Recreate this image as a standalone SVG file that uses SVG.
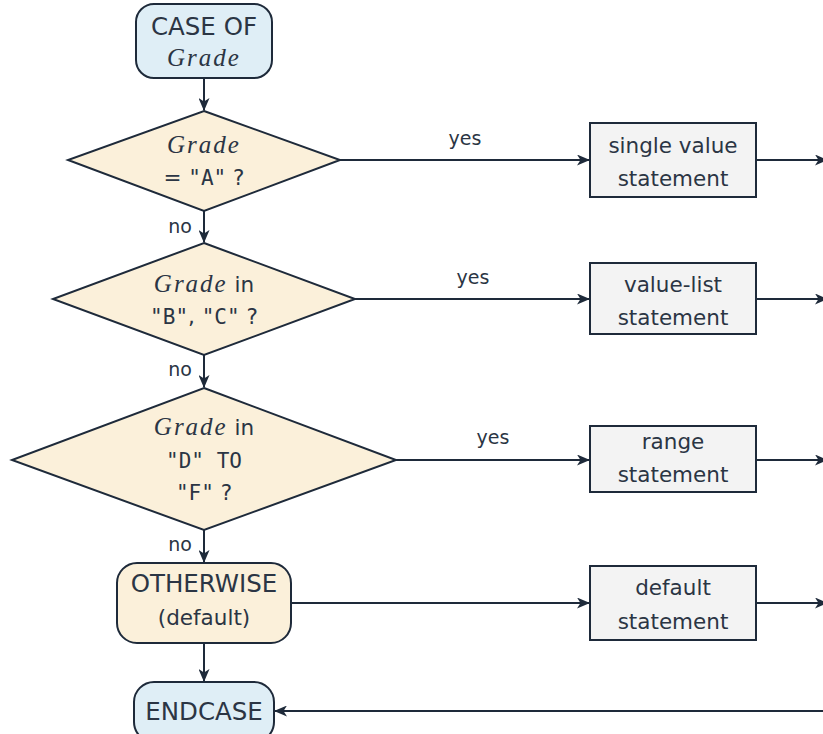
<svg xmlns="http://www.w3.org/2000/svg" width="823" height="734" viewBox="0 0 823 734">
<defs>
<marker id="ah" viewBox="0 0 13 11" refX="12" refY="5.5" markerWidth="13" markerHeight="11" markerUnits="userSpaceOnUse" orient="auto">
<path d="M0,0 L13,5.5 L0,11 L3.5,5.5 Z" fill="#1e2a3a"/>
</marker>
<style>
.s{stroke:#1e2a3a;stroke-width:2;}
.blue{fill:#dfeef6;}
.beige{fill:#fbf0da;}
.gray{fill:#f3f3f3;}
.t{font-family:"DejaVu Sans","Open Sans",sans-serif;font-size:21.5px;fill:#2b3544;text-anchor:middle;}
.cap{font-size:24.5px;}
.lbl{font-family:"DejaVu Sans","Open Sans",sans-serif;font-size:19px;fill:#2b3544;text-anchor:middle;}
.m{font-family:"Liberation Serif","DejaVu Serif",serif;font-style:italic;font-size:25px;letter-spacing:2px;}
.tt{font-family:"DejaVu Sans Mono","Liberation Mono",monospace;font-size:21px;}
.c{fill:none;stroke:#1e2a3a;stroke-width:2;marker-end:url(#ah);}
</style>
</defs>
<g id="connectors">
<path class="c" d="M204,78 L204,110"/>
<path class="c" d="M204,211 L204,242"/>
<path class="c" d="M204,355 L204,387"/>
<path class="c" d="M204,530 L204,562"/>
<path class="c" d="M204,643 L204,681"/>
<path class="c" d="M340,160 L589,160"/>
<path class="c" d="M355,299 L589,299"/>
<path class="c" d="M396,460 L589,460"/>
<path class="c" d="M291,603 L589,603"/>
<path class="c" d="M757,160 L827,160"/>
<path class="c" d="M757,299 L827,299"/>
<path class="c" d="M757,460 L827,460"/>
<path class="c" d="M757,603 L827,603"/>
<path class="c" d="M830,711 L275,711"/>
<text class="lbl" x="465" y="145">yes</text>
<text class="lbl" x="473" y="284">yes</text>
<text class="lbl" x="493" y="444">yes</text>
<text class="lbl" x="180" y="233">no</text>
<text class="lbl" x="180" y="376">no</text>
<text class="lbl" x="180" y="551">no</text>
</g>
<g id="case">
<rect class="s blue" x="136" y="4" width="136" height="74" rx="18"/>
<text class="t cap" x="204" y="35">CASE OF</text>
<text class="t m" x="204" y="66">Grade</text>
</g>
<g id="d1">
<polygon class="s beige" points="204,111 340,160 204,211 68,160"/>
<text class="t m" x="204" y="153">Grade</text>
<text class="t" x="204" y="185">= <tspan class="tt">"A"</tspan> ?</text>
</g>
<g id="d2">
<polygon class="s beige" points="204,243 355,299 204,355 53,299"/>
<text class="t" x="204" y="292"><tspan class="m">Grade</tspan> in</text>
<text class="t" x="204" y="324"><tspan class="tt">"B"</tspan>, <tspan class="tt">"C"</tspan> ?</text>
</g>
<g id="d3">
<polygon class="s beige" points="204,388 396,460 204,530 12,460"/>
<text class="t" x="204" y="435"><tspan class="m">Grade</tspan> in</text>
<text class="t tt" x="204" y="468">"D" TO</text>
<text class="t" x="204" y="500"><tspan class="tt">"F"</tspan> ?</text>
</g>
<g id="otherwise">
<rect class="s beige" x="117" y="563" width="174" height="80" rx="20"/>
<text class="t cap" x="204" y="592">OTHERWISE</text>
<text class="t" x="204" y="625">(default)</text>
</g>
<g id="endcase">
<rect class="s blue" x="134" y="682" width="140" height="60" rx="20"/>
<text class="t cap" x="204" y="720">ENDCASE</text>
</g>
<g id="b1">
<rect class="s gray" x="590" y="123" width="166" height="74"/>
<text class="t" x="673" y="153">single value</text>
<text class="t" x="673" y="186">statement</text>
</g>
<g id="b2">
<rect class="s gray" x="590" y="263" width="166" height="71"/>
<text class="t" x="673" y="292">value-list</text>
<text class="t" x="673" y="325">statement</text>
</g>
<g id="b3">
<rect class="s gray" x="590" y="426" width="166" height="66"/>
<text class="t" x="673" y="449">range</text>
<text class="t" x="673" y="482">statement</text>
</g>
<g id="b4">
<rect class="s gray" x="590" y="566" width="166" height="74"/>
<text class="t" x="673" y="595">default</text>
<text class="t" x="673" y="629">statement</text>
</g>
</svg>
